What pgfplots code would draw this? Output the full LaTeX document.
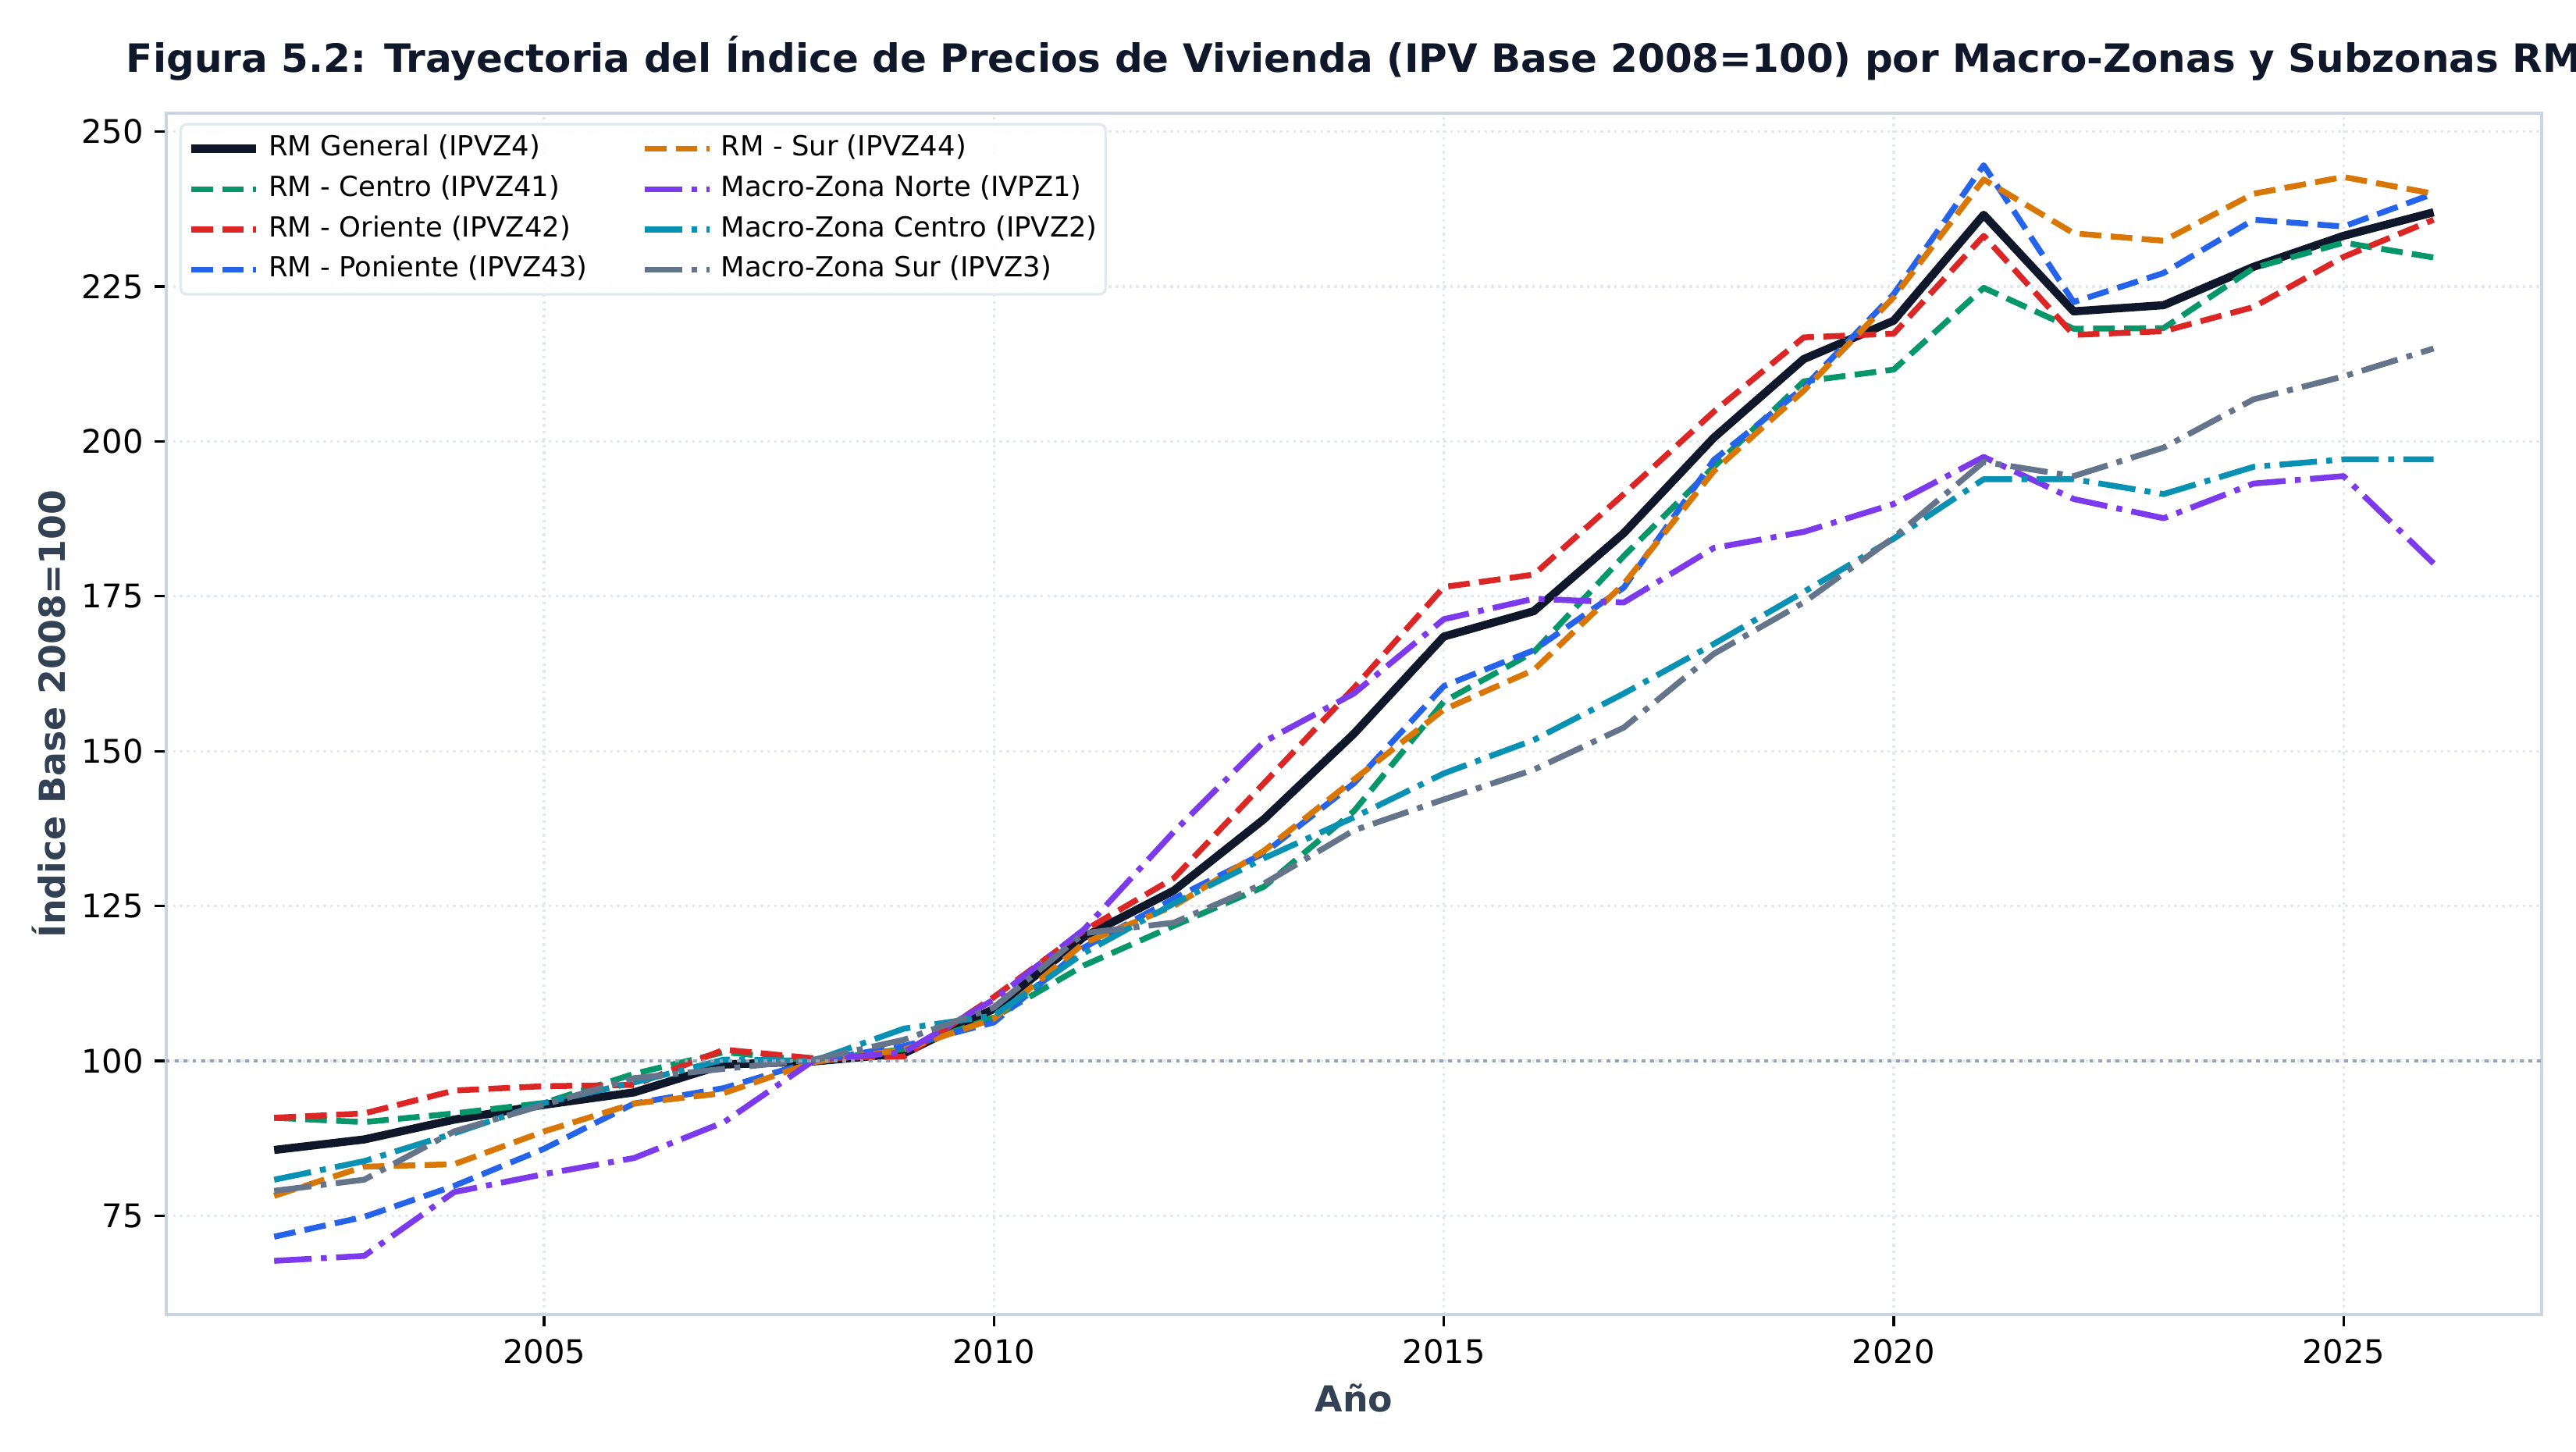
\documentclass[border=0pt]{standalone}
\usepackage{fontspec}
\setmainfont{DejaVu Sans}
\usepackage{pgfplots}
\usepackage{pgfplotstable}
\pgfplotsset{compat=1.18}

\definecolor{cgen}{HTML}{0F172A}
\definecolor{ccen}{HTML}{059669}
\definecolor{cori}{HTML}{DC2626}
\definecolor{cpon}{HTML}{2563EB}
\definecolor{csur}{HTML}{D97706}
\definecolor{cnor}{HTML}{7C3AED}
\definecolor{cmcen}{HTML}{0891B2}
\definecolor{cmsur}{HTML}{64748B}
\definecolor{spine}{HTML}{CBD5E1}
\definecolor{gridc}{HTML}{E2E8F0}
\definecolor{refc}{HTML}{94A3B8}
\definecolor{labc}{HTML}{334155}
\definecolor{titc}{HTML}{0F172A}

\pgfplotstableread{
year gen cen ori pon sur nor mcen msur
2002 85.6 90.8 90.8 71.6 78.2 67.7 80.8 79.0
2003 87.3 90.1 91.5 74.8 82.9 68.5 83.8 80.8
2004 90.5 91.5 95.2 79.8 83.3 78.8 88.3 88.6
2005 92.9 93.2 95.9 85.8 88.6 81.7 93.2 92.9
2006 94.9 97.9 96.1 93.1 93.1 84.3 96.5 97.2
2007 99.4 101.4 101.8 95.6 94.8 90.1 100.2 98.7
2008 99.9 100.0 100.4 100.0 99.8 100.1 100.0 100.2
2009 101.2 101.9 100.7 102.4 101.8 101.4 105.2 103.4
2010 108.4 107.0 110.3 106.2 106.8 109.9 107.3 108.6
2011 120.0 115.4 121.0 118.3 119.0 121.2 117.4 120.6
2012 127.5 121.8 129.5 126.2 125.0 137.0 125.4 122.3
2013 139.0 128.1 144.8 133.5 133.9 151.5 132.7 128.6
2014 152.8 140.3 160.2 144.8 145.4 159.3 139.3 137.2
2015 168.5 158.0 176.5 160.5 156.7 171.3 146.4 142.2
2016 172.6 166.0 178.5 166.3 163.1 174.6 151.8 147.0
2017 185.2 181.5 191.5 176.4 177.0 174.0 159.3 153.8
2018 200.6 195.9 204.8 197.0 195.2 182.8 167.3 165.7
2019 213.3 209.7 216.8 208.7 208.2 185.4 175.7 174.0
2020 219.5 211.6 217.4 223.8 223.3 189.9 184.3 184.5
2021 236.6 224.8 233.2 244.6 242.3 197.5 193.9 196.7
2022 221.0 218.2 217.2 222.5 233.6 190.7 193.9 194.4
2023 222.0 218.3 217.8 227.2 232.4 187.6 191.5 199.0
2024 228.2 228.0 221.7 235.8 240.0 193.2 195.9 206.8
2025 233.2 232.1 229.8 234.7 242.7 194.4 197.1 210.5
2026 237.0 229.7 235.8 240.0 240.0 180.3 197.1 215.0
}\datatable

\tikzset{
  mpldash/.style={line width=1.8pt, dash pattern=on 6.66pt off 2.88pt, line cap=butt, line join=round},
  mpldashdot/.style={line width=1.8pt, dash pattern=on 11.52pt off 2.88pt on 1.8pt off 2.88pt, line cap=butt, line join=round},
}

\begin{document}
\begin{tikzpicture}
\begin{axis}[
  scale only axis,
  width=730.3pt, height=369.4pt,
  xmin=2000.8, xmax=2027.2,
  ymin=59, ymax=253,
  xtick={2005,2010,2015,2020,2025},
  ytick={75,100,125,150,175,200,225,250},
  /pgf/number format/1000 sep={},
  /pgf/number format/assume math mode=true,
  tick label style={font=\fontsize{10}{12}\selectfont, text=black},
  tick pos=left,
  tick align=outside,
  major tick length=3.5pt,
  every tick/.style={black, line width=0.8pt},
  xticklabel style={yshift=-0.5pt},
  axis line style={spine, line width=0.8pt},
  grid=major,
  major grid style={gridc, line width=0.8pt, dash pattern=on 0.8pt off 1.3pt},
  xlabel={Año},
  ylabel={Índice Base 2008=100},
  every axis x label/.style={at={(axis description cs:0.5,-0.0696)}, anchor=center,
    font=\fontsize{11}{13}\selectfont\bfseries, text=labc},
  every axis y label/.style={at={(axis description cs:-0.0493,0.5)}, anchor=center, rotate=90,
    font=\fontsize{11}{13}\selectfont\bfseries, text=labc},
  legend columns=4,
  transpose legend,
  legend cell align=left,
  legend style={
    at={(axis description cs:0,1)}, anchor=north west,
    xshift=4pt, yshift=-3pt,
    font=\fontsize{8.5}{10}\selectfont,
    draw=gridc, line width=0.8pt, rounded corners=2pt,
    fill=white, fill opacity=0.9, text opacity=1,
    inner xsep=2pt, inner ysep=3pt,
    row sep=3.3pt,
    nodes={inner sep=0.6pt, text height=6.2pt, text depth=1.7pt},
    /tikz/every odd column/.append style={column sep=2pt},
    /tikz/every even column/.append style={column sep=16pt},
  },
  legend image code/.code={
    \draw[#1] (0pt,0pt) -- (20pt,0pt);
  },
  clip=true,
]
\addplot[cgen, line width=2.5pt, solid, line join=round] table[x=year, y=gen] {\datatable};
\addlegendentry{RM General (IPVZ4)}
\addplot[ccen, mpldash] table[x=year, y=cen] {\datatable};
\addlegendentry{RM - Centro (IPVZ41)}
\addplot[cori, mpldash] table[x=year, y=ori] {\datatable};
\addlegendentry{RM - Oriente (IPVZ42)}
\addplot[cpon, mpldash] table[x=year, y=pon] {\datatable};
\addlegendentry{RM - Poniente (IPVZ43)}
\addplot[csur, mpldash] table[x=year, y=sur] {\datatable};
\addlegendentry{RM - Sur (IPVZ44)}
\addplot[cnor, mpldashdot] table[x=year, y=nor] {\datatable};
\addlegendentry{Macro-Zona Norte (IVPZ1)}
\addplot[cmcen, mpldashdot] table[x=year, y=mcen] {\datatable};
\addlegendentry{Macro-Zona Centro (IPVZ2)}
\addplot[cmsur, mpldashdot] table[x=year, y=msur] {\datatable};
\addlegendentry{Macro-Zona Sur (IPVZ3)}
\addplot[refc, line width=1pt, dash pattern=on 1.1pt off 1.6pt, forget plot] coordinates {(2000.8,100) (2027.2,100)};
\end{axis}
\node[font=\fontsize{12}{14}\selectfont\bfseries, text=titc, anchor=center] at (365.15pt, 386.2pt) {Figura 5.2: Trayectoria del Índice de Precios de Vivienda (IPV Base 2008=100) por Macro-Zonas y Subzonas RM};
\pgfresetboundingbox
\path (-51.1pt,-42.2pt) rectangle (740.9pt,404.2pt);
\end{tikzpicture}
\end{document}
